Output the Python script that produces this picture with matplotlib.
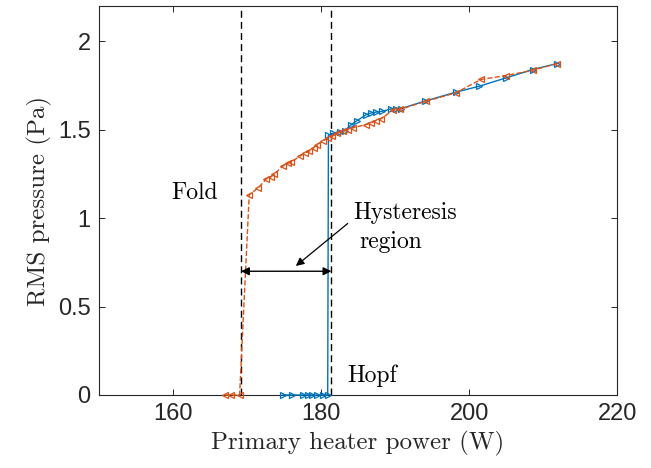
import numpy as np
import matplotlib
matplotlib.use("Agg")
import matplotlib.pyplot as plt

# sweep with decreasing heater power (fold branch)
p_down = [211.9, 208.6, 205.0, 201.6, 198.2, 194.2, 190.6, 189.7, 188.1, 187.4,
          186.8, 186.1, 184.3, 183.6, 182.9, 182.2, 181.5, 180.9, 180.2, 179.4,
          179.0, 178.4, 177.8, 177.1, 176.0, 175.5, 174.8, 173.7, 173.2, 172.6,
          171.5, 170.3, 169.0, 167.9, 167.0]
rms_down = [1.875, 1.837, 1.807, 1.785, 1.709, 1.662, 1.615, 1.611, 1.562, 1.552,
            1.539, 1.530, 1.511, 1.500, 1.492, 1.480, 1.463, 1.454, 1.435, 1.416,
            1.398, 1.379, 1.369, 1.350, 1.318, 1.312, 1.293, 1.250, 1.233, 1.222,
            1.171, 1.133, 0, 0, 0]

# sweep with increasing heater power (Hopf branch)
p_up = [174.8, 176.1, 177.5, 178.2, 178.8, 179.5, 180.2, 180.9, 181.0, 181.6,
        182.5, 183.2, 184.1, 184.8, 186.1, 186.8, 187.4, 188.3, 189.5, 190.1,
        190.8, 194.0, 198.2, 201.4, 205.0, 208.6, 211.9]
rms_up = [0, 0, 0, 0, 0, 0, 0, 0, 1.470, 1.480,
          1.490, 1.495, 1.530, 1.550, 1.586, 1.596, 1.600, 1.605, 1.619, 1.620,
          1.620, 1.662, 1.713, 1.747, 1.794, 1.841, 1.875]

fold_x, hopf_x = 169.2, 181.4
arrow_y = 0.70

blue = (0, 0.447, 0.741)
orange = (0.851, 0.325, 0.098)
dark = (0.15, 0.15, 0.15)
serif = 'cmr10'

plt.rcParams['font.family'] = ['Liberation Sans', 'DejaVu Sans']
plt.rcParams['axes.formatter.use_mathtext'] = False

fig = plt.figure(figsize=(6.51, 4.68), dpi=100)
ax = fig.add_axes([0.152, 0.156, 0.796, 0.831])

ax.plot(p_up, rms_up, '-', color=blue, lw=1, marker='>', ms=5,
        mfc='none', mec=blue, mew=0.9, clip_on=False, zorder=3)
ax.plot(p_down, rms_down, '--', color=orange, lw=1, marker='<', ms=5,
        mfc='none', mec=orange, mew=0.9, clip_on=False, zorder=3)

ax.axvline(fold_x, color='k', ls='--', lw=1, dashes=(5, 3))
ax.axvline(hopf_x, color='k', ls='--', lw=1, dashes=(5, 3))

ax.annotate('', xy=(fold_x, arrow_y), xytext=(hopf_x, arrow_y),
            arrowprops=dict(arrowstyle='<|-|>', color='k', lw=1,
                            mutation_scale=12, shrinkA=0, shrinkB=0))
ax.annotate('', xy=(176.6, arrow_y + 0.03), xytext=(183.6, 0.97),
            arrowprops=dict(arrowstyle='-|>', color='k', lw=0.9,
                            mutation_scale=12, shrinkA=0, shrinkB=0))

ax.text(162.9, 1.145, 'Fold', family=serif, fontsize=17, ha='center', va='center')
ax.text(184.4, 1.03, 'Hysteresis', family=serif, fontsize=17, ha='left', va='center')
ax.text(185.2, 0.865, 'region', family=serif, fontsize=17, ha='left', va='center')
ax.text(183.6, 0.11, 'Hopf', family=serif, fontsize=17, ha='left', va='center')

ax.set_xlim(150, 220)
ax.set_ylim(0, 2.2)
ax.set_xticks([160, 180, 200, 220])
ax.set_yticks([0, 0.5, 1, 1.5, 2])
ax.set_yticklabels(['0', '0.5', '1', '1.5', '2'])

ax.set_xlabel('Primary heater power (W)', family=serif, fontsize=18, color=dark)
ax.set_ylabel('RMS pressure (Pa)', family=serif, fontsize=18, color=dark)

ax.tick_params(direction='in', top=True, right=True, length=4, width=0.7,
               labelsize=17, colors=dark, pad=6)
for s in ax.spines.values():
    s.set_color(dark)
    s.set_linewidth(0.8)

fig.savefig('out.png', dpi=100)
